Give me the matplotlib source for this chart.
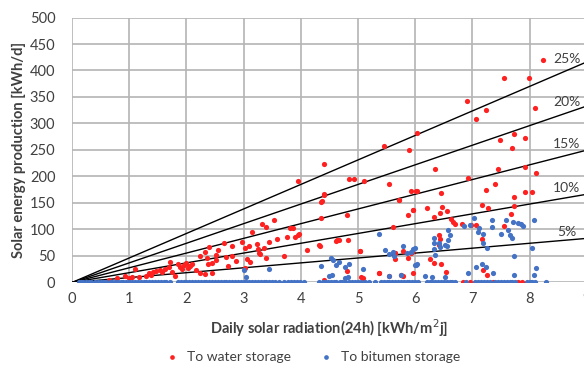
import numpy as np
from matplotlib import pyplot as plt

plt.rcParams['font.family'] = ['Lato', 'DejaVu Sans']

# red series: to water storage
water_x = [0.64, 0.79, 0.93, 0.99, 1.05, 1.11, 1.17, 1.3, 1.34, 1.38, 1.42, 1.46, 1.54, 1.57, 1.63,
           1.69, 1.72, 1.75, 1.8, 1.85, 1.88, 1.92, 1.96, 2.0, 2.02, 2.04, 2.07, 2.1, 2.16, 2.23,
           2.24, 2.32, 2.33, 2.36, 2.38, 2.39, 2.45, 2.45, 2.52, 2.52, 2.56, 2.66, 2.69, 2.73, 2.79,
           2.8, 2.86, 2.98, 3.02, 3.03, 3.06, 3.09, 3.11, 3.15, 3.24, 3.25, 3.27, 3.29, 3.32, 3.36,
           3.39, 3.39, 3.44, 3.54, 3.58, 3.71, 3.76, 3.81, 3.87, 3.9, 3.95, 3.96, 3.95, 4.1, 4.32,
           4.34, 4.35, 4.35, 4.37, 4.4, 4.41, 4.41, 4.41, 4.61, 4.64, 4.67, 4.8, 4.81, 4.82, 4.85,
           4.93, 5.03, 5.04, 5.06, 5.08, 5.1, 5.37, 5.37, 5.46, 5.54, 5.54, 5.61, 5.64, 5.65, 5.65,
           5.71, 5.72, 5.76, 5.78, 5.79, 5.88, 5.88, 5.89, 5.92, 5.93, 5.94, 5.96, 5.97, 5.97, 6.02,
           6.03, 6.04, 6.2, 6.26, 6.32, 6.33, 6.35, 6.42, 6.42, 6.43, 6.43, 6.45, 6.45, 6.47, 6.54,
           6.55, 6.63, 6.66, 6.7, 6.81, 6.84, 6.9, 6.93, 6.96, 6.98, 7.06, 7.07, 7.16, 7.16, 7.19,
           7.23, 7.24, 7.25, 7.27, 7.36, 7.4, 7.44, 7.49, 7.55, 7.56, 7.68, 7.69, 7.72, 7.72, 7.72,
           7.8, 7.87, 7.92, 7.92, 7.92, 7.99, 8.04, 8.09, 8.11, 8.23]
water_y = [5, 8, 12, 8, 11, 25, 11, 13, 18, 15, 20, 22, 23, 20, 25,
           30, 39, 20, 12, 35, 30, 26, 33, 37, 28, 32, 31, 35, 24, 17,
           50, 57, 16, 47, 35, 67, 36, 17, 52, 43, 61, 74, 48, 32, 69,
           50, 41, 77, 66, 27, 44, 69, 38, 96, 73, 64, 56, 53, 110, 66,
           104, 47, 77, 117, 82, 50, 86, 102, 102, 85, 90, 92, 191, 61, 71,
           69, 121, 152, 154, 165, 223, 167, 5, 79, 80, 81, 22, 128, 80, 196,
           196, 60, 59, 10, 8, 191, 17, 18, 258, 186, 12, 105, 55, 55, 45,
           155, 156, 14, 12, 60, 128, 47, 250, 172, 55, 58, 136, 136, 18, 172,
           172, 283, 141, 44, 37, 123, 215, 90, 71, 132, 83, 168, 35, 143, 19,
           135, 120, 115, 110, 110, 0, 343, 197, 0, 108, 308, 108, 146, 83, 24,
           326, 174, 14, 140, 0, 185, 215, 268, 385, 107, 129, 254, 145, 162, 280,
           0, 0, 272, 217, 171, 386, 171, 330, 207, 420]

# blue series: to bitumen storage
bitumen_x = [0.12, 0.16, 0.2, 0.25, 0.3, 0.34, 0.4, 0.45, 0.5, 0.55, 0.6, 0.66, 0.7, 0.75, 0.8,
             0.85, 0.9, 0.95, 1.0, 1.05, 1.1, 1.16, 1.2, 1.25, 1.3, 1.35, 1.4, 1.45, 1.5, 1.55,
             1.6, 1.65, 1.72, 1.85, 1.9, 1.95, 2.0, 2.05, 2.1, 2.15, 2.2, 2.25, 2.3, 2.35, 2.4,
             2.45, 2.5, 2.55, 2.6, 2.65, 2.7, 2.75, 2.8, 2.85, 2.9, 2.95, 3.0, 3.05, 3.1, 3.15,
             3.2, 3.25, 3.3, 3.35, 3.4, 3.45, 3.5, 3.55, 3.62, 3.7, 3.78, 3.82, 3.88, 3.93, 3.98,
             4.05, 4.32, 4.38, 4.42, 4.48, 4.52, 4.58, 4.62, 4.68, 4.72, 4.78, 4.85, 4.9, 4.95, 5.0,
             5.05, 5.12, 5.2, 5.3, 5.4, 5.45, 5.5, 5.55, 5.6, 5.65, 5.7, 5.75, 5.8, 5.85, 5.9,
             5.95, 6.0, 6.05, 6.2, 6.25, 6.3, 6.35, 6.4, 6.45, 6.5, 6.55, 6.6, 6.65, 6.7, 6.88,
             7.05, 7.1, 7.15, 7.2, 7.25, 7.3, 7.4, 7.45, 7.5, 7.55, 7.6, 7.65, 7.7, 7.75, 7.95,
             8.0, 8.05, 8.1, 8.28,
             3.0, 3.05, 3.44, 4.36, 4.52, 4.57, 4.67, 4.62, 4.77, 4.85, 4.5, 4.54, 4.77, 4.83, 5.08,
             5.37, 5.47, 5.54, 5.62, 5.79, 5.85, 5.92, 5.97, 6.01, 5.54, 5.63, 5.75, 5.99,
             8.08, 7.35, 7.58, 7.71, 7.79, 7.85, 7.89, 7.03, 6.86, 6.96, 7.11, 7.1, 7.19,
             7.34, 7.5, 7.62, 7.66, 7.69, 6.58, 6.61, 6.57, 6.52, 6.55, 6.32, 6.33, 6.42, 6.43, 6.33,
             7.19, 7.25, 6.0, 6.35, 8.05, 7.72, 6.03, 7.06, 7.16, 7.23, 6.93, 7.36, 7.73, 8.11, 8.07,
             6.17, 6.29, 6.52]
bitumen_y = [0] * 139 + \
            [23, 10, 25, 31, 46, 42, 39, 33, 30, 35, 12, 15, 8, 10, 25,
             92, 62, 54, 57, 69, 55, 58, 64, 33, 12, 50, 14, 33,
             118, 118, 118, 115, 112, 110, 107, 122, 107, 108, 102, 96, 91,
             105, 91, 99, 90, 84, 99, 90, 80, 71, 68, 84, 75, 75, 67, 64,
             74, 66, 65, 52, 66, 50, 34, 30, 34, 30, 17, 17, 15, 28, 15,
             13, 10, 10]

efficiencies = [25, 20, 15, 10, 5]
label_y = [422, 340, 261, 178, 95]
area = 185.0  # m2, slope of the efficiency lines

fig = plt.figure(figsize=(5.84, 3.70), dpi=100)
ax = fig.add_axes([0.1233, 0.2365, 0.8815, 0.7162])

ax.scatter(water_x, water_y, s=14, color='#ff2020', linewidths=0, zorder=3,
           label='To water storage')
ax.scatter(bitumen_x, bitumen_y, s=14, color='#4472c4', linewidths=0, zorder=4,
           label='To bitumen storage')

xs = np.array([0, 9])
for eff, ly in zip(efficiencies, label_y):
    ax.plot(xs, xs * area * eff / 100, color='black', lw=1.0, zorder=2)
    ax.text(8.65, ly, f'{eff}%', fontsize=10, color='#404040', va='center', ha='center')

ax.set_xlim(0, 9)
ax.set_ylim(0, 500)
ax.set_xticks(range(0, 10))
ax.set_yticks(range(0, 501, 50))
ax.grid(True, color='#b4b4b4', lw=1.2, zorder=0)
ax.set_axisbelow(True)
for s in ax.spines.values():
    s.set_visible(False)
ax.tick_params(length=0, labelsize=10.5, colors='#404040')
ax.tick_params(axis='y', pad=12)
ax.tick_params(axis='x', pad=7)

ax.set_xlabel('Daily solar radiation(24h) [kWh/m$^2$j]', fontsize=10.5,
              fontweight='bold', color='#404040', labelpad=8)
ax.set_ylabel('Solar energy production [kWh/d]', fontsize=10.5,
              fontweight='bold', color='#404040', labelpad=3)

fig.legend(loc='lower center', bbox_to_anchor=(0.53, -0.015), ncol=2, frameon=False,
           fontsize=10, handletextpad=0.1, columnspacing=1.5, markerscale=0.9,
           labelcolor='#404040')

fig.savefig('out.png', dpi=100)
